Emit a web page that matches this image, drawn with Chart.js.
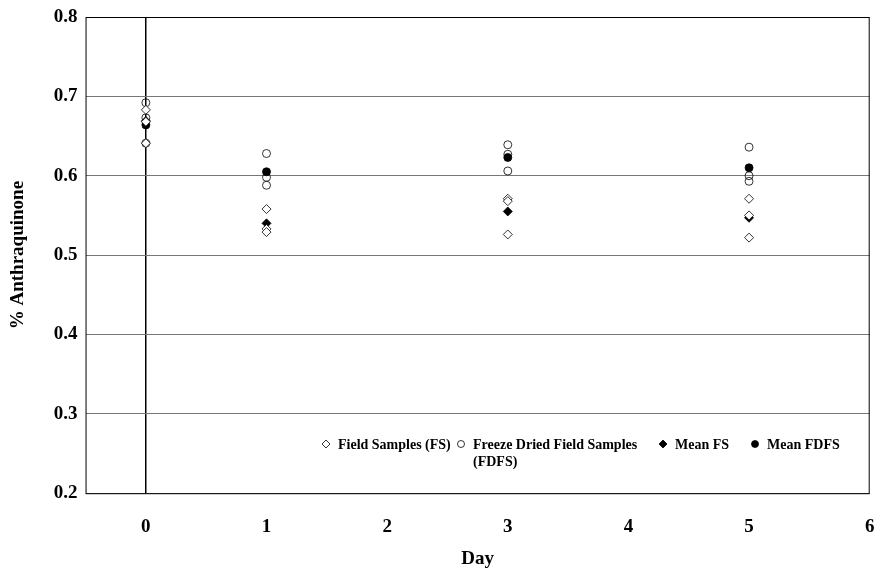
<!DOCTYPE html>
<html lang="en">
  <head>
    <meta charset="UTF-8" />
    <title>Anthraquinone</title>
    <script src="https://cdn.jsdelivr.net/npm/chart.js@4.4.1/dist/chart.umd.min.js"></script>
    <style>
      body { margin: 0; background: #fff; }
      #wrap { width: 875px; height: 569px; }
    </style>
  </head>
  <body>
    <div id="wrap"><canvas id="myChart"></canvas></div>

    <script>
      // values
      const xTicks = [0, 1, 2, 3, 4, 5, 6];
      const fsDays = [0, 0, 0, 1, 1, 1, 3, 3, 3, 5, 5, 5];
      const fsVals = [0.683, 0.668, 0.641, 0.558, 0.533, 0.529, 0.571, 0.568, 0.526, 0.571, 0.550, 0.522];
      const fdfsDays = [0, 0, 0, 1, 1, 1, 3, 3, 3, 5, 5, 5];
      const fdfsVals = [0.692, 0.673, 0.641, 0.628, 0.598, 0.588, 0.639, 0.627, 0.606, 0.636, 0.600, 0.593];
      const meanDays = [0, 1, 3, 5];
      const meanFS = [0.669, 0.540, 0.555, 0.547];
      const meanFDFS = [0.664, 0.605, 0.623, 0.610];

      const legendNames = ["Field Samples (FS)", ["Freeze Dried Field Samples", "(FDFS)"], "Mean FS", "Mean FDFS"];

      function pts(xs, ys) {
        return xs.map((x, i) => ({ x: x, y: ys[i] }));
      }

      const FONT = "'Liberation Serif', 'Times New Roman', serif";

      // frame + legend drawn inside the plot
      const framePlugin = {
        id: "frame",
        afterDraw(chart) {
          const c = chart.ctx, a = chart.chartArea;
          c.save();
          c.strokeStyle = "#000";
          c.lineWidth = 1;
          c.strokeRect(a.left + 0.5, a.top + 0.5, a.right - a.left - 1, a.bottom - a.top);

          // legend
          const items = [
            { x: 326, style: "rectRot", fill: false },
            { x: 461, style: "circle", fill: false },
            { x: 663, style: "rectRot", fill: true },
            { x: 755, style: "circle", fill: true },
          ];
          const y = 444;
          c.font = "bold 14px " + FONT;
          c.fillStyle = "#000";
          c.textBaseline = "middle";
          items.forEach((it, i) => {
            c.beginPath();
            if (it.style === "circle") {
              c.arc(it.x, y, 3.5, 0, Math.PI * 2);
            } else {
              c.moveTo(it.x, y - 4);
              c.lineTo(it.x + 4, y);
              c.lineTo(it.x, y + 4);
              c.lineTo(it.x - 4, y);
              c.closePath();
            }
            c.lineWidth = 0.8;
            if (it.fill) c.fill();
            c.stroke();
            const t = legendNames[i];
            const lines = Array.isArray(t) ? t : [t];
            lines.forEach((ln, k) => c.fillText(ln, it.x + 12, y + 1 + k * 17));
          });
          c.restore();
        },
      };

      const ctx = document.getElementById("myChart").getContext("2d");
      const chart = new Chart(ctx, {
        type: "scatter",
        data: {
          datasets: [
            {
              label: "Field Samples (FS)",
              data: pts(fsDays, fsVals),
              pointStyle: "rectRot",
              pointRadius: 4.5,
              borderColor: "#000",
              backgroundColor: "#fff",
              borderWidth: 0.8,
            },
            {
              label: "Freeze Dried Field Samples (FDFS)",
              data: pts(fdfsDays, fdfsVals),
              pointStyle: "circle",
              pointRadius: 4,
              borderColor: "#000",
              backgroundColor: "rgba(255,255,255,0)",
              borderWidth: 0.8,
            },
            {
              label: "Mean FS",
              data: pts(meanDays, meanFS),
              pointStyle: "rectRot",
              pointRadius: 4.5,
              borderColor: "#000",
              backgroundColor: "#000",
              borderWidth: 0.8,
            },
            {
              label: "Mean FDFS",
              data: pts(meanDays, meanFDFS),
              pointStyle: "circle",
              pointRadius: 4,
              borderColor: "#000",
              backgroundColor: "#000",
              borderWidth: 0.8,
            },
          ],
        },
        options: {
          responsive: true,
          maintainAspectRatio: false,
          animation: false,
          layout: { padding: { top: 17, right: 0, left: 7, bottom: 0 } },
          plugins: {
            legend: { display: false },
            tooltip: { enabled: false },
          },
          scales: {
            x: {
              type: "linear",
              min: -0.5,
              max: 6,
              afterBuildTicks: (s) => {
                s.ticks = xTicks.map((v) => ({ value: v }));
              },
              grid: {
                color: (c) => (c.tick && c.tick.value === 0 ? "#000" : "rgba(0,0,0,0)"),
                lineWidth: 1.5,
                drawTicks: true,
                tickLength: 22,
                tickColor: "rgba(0,0,0,0)",
              },
              border: { display: false },
              ticks: {
                color: "#000",
                padding: 0,
                font: { family: FONT, size: 19, weight: "bold" },
              },
              title: {
                display: true,
                text: "Day",
                color: "#000",
                padding: { top: 12, bottom: 0 },
                font: { family: FONT, size: 19, weight: "bold", lineHeight: 1.0 },
              },
            },
            y: {
              min: 0.2,
              max: 0.8,
              ticks: {
                stepSize: 0.1,
                color: "#000",
                padding: 0,
                font: { family: FONT, size: 19, weight: "bold" },
                callback: (v) => v.toFixed(1),
              },
              grid: {
                color: "#777",
                lineWidth: 1,
                drawTicks: true,
                tickLength: 8,
                tickColor: "rgba(0,0,0,0)",
              },
              border: { display: false },
              title: {
                display: true,
                text: "% Anthraquinone",
                color: "#000",
                padding: { top: 0, bottom: 24 },
                font: { family: FONT, size: 19, weight: "bold" },
              },
            },
          },
        },
        plugins: [framePlugin],
      });
    </script>
  </body>
</html>
